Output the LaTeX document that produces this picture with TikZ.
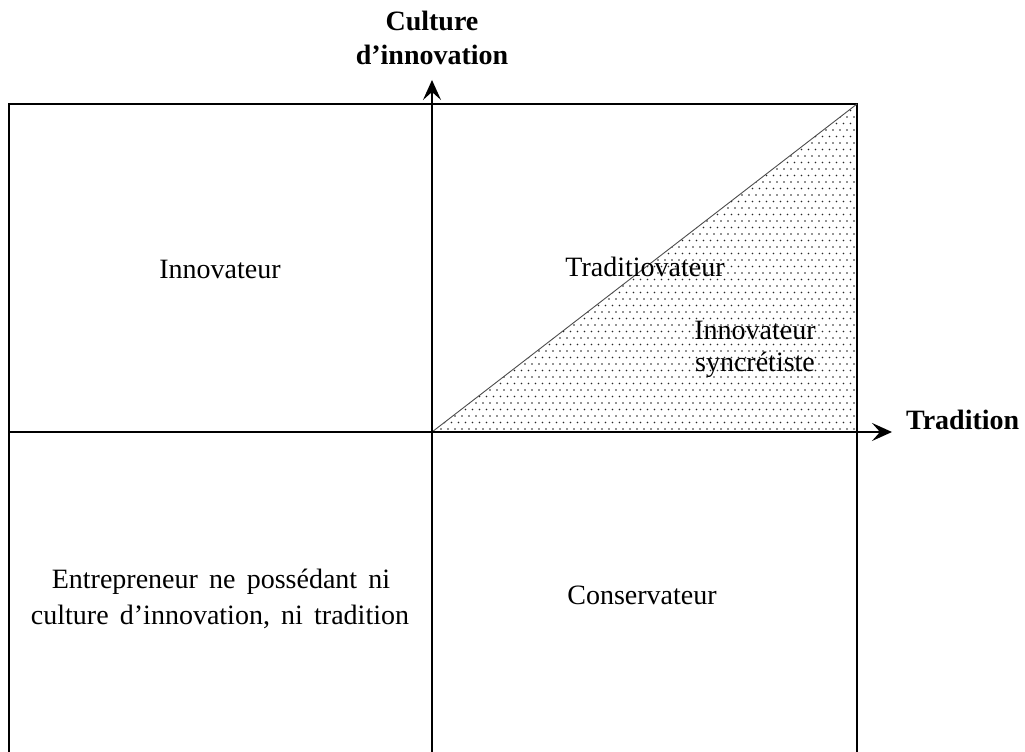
\documentclass[tikz,border=0pt]{standalone}
\usepackage{fontspec}
\setmainfont{Liberation Serif}
\newfontfamily\widesp[WordSpace=1.6]{Liberation Serif}
\usetikzlibrary{arrows.meta}
\begin{document}
\begin{tikzpicture}[x=1pt,y=1pt,
  lbl/.style={anchor=base,inner sep=0pt,font=\fontsize{28}{34}\selectfont},
  wlbl/.style={anchor=base,inner sep=0pt,font=\fontsize{28}{34}\widesp},
  blbl/.style={lbl,font=\fontsize{28}{34}\selectfont\bfseries},
  frame/.style={line width=2pt,black},
  axis/.style={line width=2pt,black,-{Stealth[length=20pt,width=18pt,inset=8pt]}},
  diag/.style={line width=0.9pt,black!70}]
\useasboundingbox (0,0) rectangle (1025,752);
% dotted triangle
\begin{scope}
  \clip (432,320) -- (857,648) -- (857,320) -- cycle;
  \foreach \i in {0,...,61}{
    \foreach \j in {0,...,51}{
      \fill[black!85] ({434+7*\i+3.5*mod(\j,2)},{323+6.5*\j}) circle (0.8pt);
    }
  }
\end{scope}
% coordinates
\coordinate (tl) at (9,648);
\coordinate (tr) at (857,648);
\coordinate (bl) at (9,-5);
\coordinate (br) at (857,-5);
\coordinate (o) at (432,320);
\coordinate (vb) at (432,-5);
\coordinate (vt) at (432,672);
\coordinate (hl) at (9,320);
\coordinate (hr) at (892,320);
% frame
\draw[frame] (bl) -- (tl) -- (tr) -- (br);
% diagonal
\draw[diag] (o) -- (tr);
% axes
\draw[axis] (vb) -- (vt);
\draw[axis] (hl) -- (hr);
% labels
\node[blbl] (c1) at (432,721) {Culture};
\node[blbl] (c2) at (432,687) {d’innovation};
\node[blbl,anchor=base west] (trad) at (906,322) {Tradition};
\node[lbl] (inn) at (220,473) {Innovateur};
\node[lbl] (tv) at (645,475) {Traditiovateur};
\node[lbl] (is1) at (755,412) {Innovateur};
\node[lbl] (is2) at (755,380) {syncrétiste};
\node[wlbl] (e1) at (221,163) {Entrepreneur ne possédant ni};
\node[wlbl] (e2) at (220,127) {culture d’innovation, ni tradition};
\node[lbl] (cons) at (642,147) {Conservateur};
\end{tikzpicture}
\end{document}
